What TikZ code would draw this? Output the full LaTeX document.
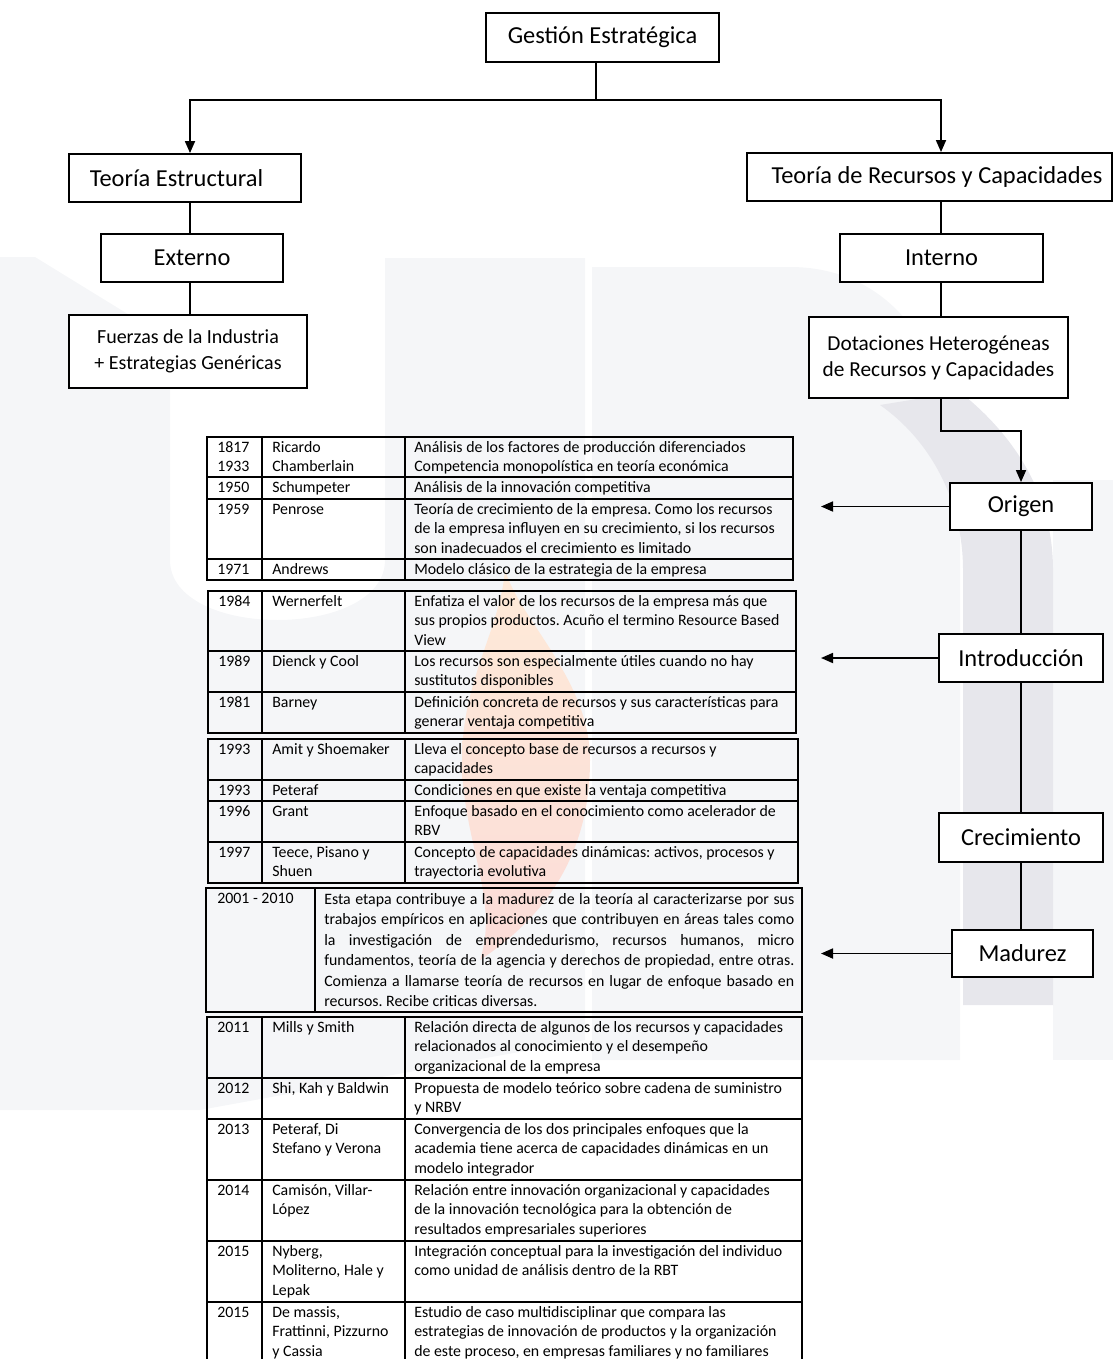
\documentclass[tikz,border=0pt]{standalone}
\usepackage{fontspec}
\setmainfont{Carlito}
\usetikzlibrary{arrows.meta}

\definecolor{wmlight}{HTML}{F5F6F8}
\definecolor{wmdark}{HTML}{E7E7EC}
\definecolor{flameA}{HTML}{FEEAD8}
\definecolor{flameB}{HTML}{FBDCD8}

\newcommand\boxfont{\fontsize{18.3}{22}\selectfont}
\newcommand\fzfont{\fontsize{15}{19.5}\selectfont}
\newcommand\dotfont{\fontsize{16}{19.5}\selectfont}
\newcommand\tabfont{\fontsize{11.9}{14.6}\selectfont}

% box: [options]{name}{centre x}{centre y}{width}{height}{text}
\newcommand\flowbox[7][]{%
  \node[fbox,#1,minimum width={#5*0.75pt},minimum height={#6*0.75pt}] (#2) at (#3,#4) {#7};}
% table cell text: {name}{left x}{row top}{text}
\newcommand\tcell[4]{\node[tc] (#1) at (#2,#3+1.4) {\strut #4};}
\newcommand\jline[1]{\makebox[352.5pt][s]{#1}}

\begin{document}
\frenchspacing
\begin{tikzpicture}[x=0.75pt,y=-0.75pt,
  fbox/.style={draw,line width=1.4pt,fill=white,inner sep=0pt,align=center,font=\boxfont},
  conn/.style={line width=1.3pt},
  arr/.style={-{Triangle[length=9pt,width=7.5pt]}},
  tout/.style={line width=1.4pt},
  tin/.style={line width=0.9pt},
  tc/.style={anchor=north west,inner sep=0pt,align=left,font=\tabfont\frenchspacing},
]
\useasboundingbox (0,0) rectangle (1113,1359);

% ---- faint background logo ----
\fill[wmlight] (0,257) -- (35,257) -- (170,340) -- (170,560)
  .. controls (170,640) and (385,640) .. (385,560) -- (385,258) -- (585,258)
  -- (585,1040) -- (200,1110) -- (0,1110) -- cycle;
\fill[wmlight] (592,267) -- (790,267) .. controls (870,267) and (925,320) .. (945,400)
  -- (960,480) -- (960,1060) -- (592,1060) -- cycle;
\fill[wmlight] (1053,480) rectangle (1113,1060);
\fill[wmdark] (963,1005) -- (963,570) .. controls (963,500) and (930,440) .. (880,405)
  -- (960,392) .. controls (1020,440) and (1053,500) .. (1053,570) -- (1053,1005) -- cycle;
\shade[top color=flameA,bottom color=flameB]
  (505,570) .. controls (520,620) and (590,680) .. (590,760)
  .. controls (590,860) and (540,920) .. (480,960)
  .. controls (500,900) and (462,840) .. (462,760)
  .. controls (462,680) and (500,630) .. (505,570) -- cycle;

% ---- concept boxes ----
\flowbox{ge}{602.5}{37.5}{233}{49}{Gestión Estratégica}
\flowbox{te}{185}{178}{232}{48}{Teoría Estructural\kern12.75pt}
\flowbox{trc}{929.5}{177}{365}{48}{\kern11.25pt Teoría de Recursos y Capacidades}
\flowbox{ext}{192}{258}{182}{48}{Externo}
\flowbox[font=\fzfont]{fz}{188}{351.5}{238}{73}{Fuerzas de la Industria\\+ Estrategias Genéricas}
\flowbox{int}{941.5}{258}{203}{48}{Interno}
\flowbox[font=\dotfont]{dot}{938.5}{357.5}{259}{81}{Dotaciones Heterogéneas\\de Recursos y Capacidades}
\flowbox{org}{1021}{506.5}{142}{47}{Origen}
\flowbox{intro}{1021}{658}{164}{48}{Introducción}
\flowbox{crec}{1021}{837.5}{164}{49}{Crecimiento}
\flowbox{mad}{1022.5}{953.5}{141}{47}{Madurez}

% ---- connectors ----
\coordinate (hub) at (596,100);
\coordinate (lbr) at (190,100);
\coordinate (rbr) at (941,100);
\coordinate (elbow) at (941,431);
\coordinate (tipx) at (821,0);
\draw[conn] (ge.south -| hub) -- (hub);
\draw[conn,arr] (hub) -- (lbr) -- (te.north -| lbr);
\draw[conn,arr] (hub) -- (rbr) -- (trc.north -| rbr);
\draw[conn] (te.south -| lbr) -- (ext.north -| lbr);
\draw[conn] (ext.south -| lbr) -- (fz.north -| lbr);
\draw[conn] (trc.south -| rbr) -- (int.north -| rbr);
\draw[conn] (int.south -| rbr) -- (dot.north -| rbr);
\draw[conn,arr] (dot.south -| rbr) -- (elbow) -| (org.north);
\draw[conn] (org.south) -- (intro.north);
\draw[conn] (intro.south) -- (crec.north);
\draw[conn] (crec.south) -- (crec.south |- mad.north);
\draw[conn,arr] (org.west) -- (org.west -| tipx);
\draw[conn,arr] (intro.west) -- (intro.west -| tipx);
\draw[conn,arr] (mad.west) -- (mad.west -| tipx);

% ---- table: origen ----
\draw[tout] (207,437) rectangle (793,580);
\draw[tin] (262,437) -- (262,580) (405,437) -- (405,580)
  (207,477) -- (793,477) (207,499) -- (793,499) (207,559) -- (793,559);
\tcell{o1y}{217}{437}{1817\\1933}
\tcell{o1a}{272}{437}{Ricardo\\Chamberlain}
\tcell{o1d}{414}{437}{Análisis de los factores de producción diferenciados\\Competencia monopolística en teoría económica}
\tcell{o2y}{217}{477}{1950}
\tcell{o2a}{272}{477}{Schumpeter}
\tcell{o2d}{414}{477}{Análisis de la innovación competitiva}
\tcell{o3y}{217}{499}{1959}
\tcell{o3a}{272}{499}{Penrose}
\tcell{o3d}{414}{499}{Teoría de crecimiento de la empresa. Como los recursos\\de la empresa influyen en su crecimiento, si los recursos\\son inadecuados el crecimiento es limitado}
\tcell{o4y}{217}{559}{1971}
\tcell{o4a}{272}{559}{Andrews}
\tcell{o4d}{414}{559}{Modelo clásico de la estrategia de la empresa}

% ---- table: introduccion ----
\draw[tout] (208,591) rectangle (796,733);
\draw[tin] (262,591) -- (262,733) (405,591) -- (405,733)
  (208,651) -- (796,651) (208,692) -- (796,692);
\tcell{i1y}{218}{591}{1984}
\tcell{i1a}{272}{591}{Wernerfelt}
\tcell{i1d}{414}{591}{Enfatiza el valor de los recursos de la empresa más que\\sus propios productos. Acuño el termino Resource Based\\View}
\tcell{i2y}{218}{651}{1989}
\tcell{i2a}{272}{651}{Dienck y Cool}
\tcell{i2d}{414}{651}{Los recursos son especialmente útiles cuando no hay\\sustitutos disponibles}
\tcell{i3y}{218}{692}{1981}
\tcell{i3a}{272}{692}{Barney}
\tcell{i3d}{414}{692}{Definición concreta de recursos y sus características para\\generar ventaja competitiva}

% ---- table: crecimiento ----
\draw[tout] (208,739) rectangle (798,883);
\draw[tin] (262,739) -- (262,883) (405,739) -- (405,883)
  (208,780) -- (798,780) (208,801) -- (798,801) (208,842) -- (798,842);
\tcell{c1y}{218}{739}{1993}
\tcell{c1a}{272}{739}{Amit y Shoemaker}
\tcell{c1d}{414}{739}{Lleva el concepto base de recursos a recursos y\\capacidades}
\tcell{c2y}{218}{780}{1993}
\tcell{c2a}{272}{780}{Peteraf}
\tcell{c2d}{414}{780}{Condiciones en que existe la ventaja competitiva}
\tcell{c3y}{218}{801}{1996}
\tcell{c3a}{272}{801}{Grant}
\tcell{c3d}{414}{801}{Enfoque basado en el conocimiento como acelerador de\\RBV}
\tcell{c4y}{218}{842}{1997}
\tcell{c4a}{272}{842}{Teece, Pisano y\\Shuen}
\tcell{c4d}{414}{842}{Concepto de capacidades dinámicas: activos, procesos y\\trayectoria evolutiva}

% ---- table: madurez 2001-2010 ----
\draw[tout] (206,888) rectangle (802,1012);
\draw[tin] (315,888) -- (315,1012);
\tcell{m1y}{217}{888}{2001 - 2010}
\node[tc,font=\fontsize{11.9}{15.4}\selectfont\frenchspacing] (m1d) at (324,889.4) {\strut\jline{Esta etapa contribuye a la madurez de la teoría al caracterizarse por sus}\\
\jline{trabajos empíricos en aplicaciones que contribuyen en áreas tales como}\\
\jline{la investigación de emprendedurismo, recursos humanos, micro}\\
\jline{fundamentos, teoría de la agencia y derechos de propiedad, entre otras.}\\
\jline{Comienza a llamarse teoría de recursos en lugar de enfoque basado en}\\
recursos. Recibe criticas diversas.};

% ---- table: madurez 2011-2015 ----
\draw[tout] (207,1362) -- (207,1017) -- (802,1017) -- (802,1362);
\draw[tin] (262,1017) -- (262,1362) (405,1017) -- (405,1362)
  (207,1078) -- (802,1078) (207,1119) -- (802,1119) (207,1180) -- (802,1180)
  (207,1241) -- (802,1241) (207,1302) -- (802,1302);
\tcell{n1y}{217}{1017}{2011}
\tcell{n1a}{272}{1017}{Mills y Smith}
\tcell{n1d}{414}{1017}{Relación directa de algunos de los recursos y capacidades\\relacionados al conocimiento y el desempeño\\organizacional de la empresa}
\tcell{n2y}{217}{1078}{2012}
\tcell{n2a}{272}{1078}{Shi, Kah y Baldwin}
\tcell{n2d}{414}{1078}{Propuesta de modelo teórico sobre cadena de suministro\\y NRBV}
\tcell{n3y}{217}{1119}{2013}
\tcell{n3a}{272}{1119}{Peteraf, Di\\Stefano y Verona}
\tcell{n3d}{414}{1119}{Convergencia de los dos principales enfoques que la\\academia tiene acerca de capacidades dinámicas en un\\modelo integrador}
\tcell{n4y}{217}{1180}{2014}
\tcell{n4a}{272}{1180}{Camisón, Villar-\\López}
\tcell{n4d}{414}{1180}{Relación entre innovación organizacional y capacidades\\de la innovación tecnológica para la obtención de\\resultados empresariales superiores}
\tcell{n5y}{217}{1241}{2015}
\tcell{n5a}{272}{1241}{Nyberg,\\Moliterno, Hale y\\Lepak}
\tcell{n5d}{414}{1241}{Integración conceptual para la investigación del individuo\\como unidad de análisis dentro de la RBT}
\tcell{n6y}{217}{1302}{2015}
\tcell{n6a}{272}{1302}{De massis,\\Frattinni, Pizzurno\\y Cassia}
\tcell{n6d}{414}{1302}{Estudio de caso multidisciplinar que compara las\\estrategias de innovación de productos y la organización\\de este proceso, en empresas familiares y no familiares}
\end{tikzpicture}
\end{document}
